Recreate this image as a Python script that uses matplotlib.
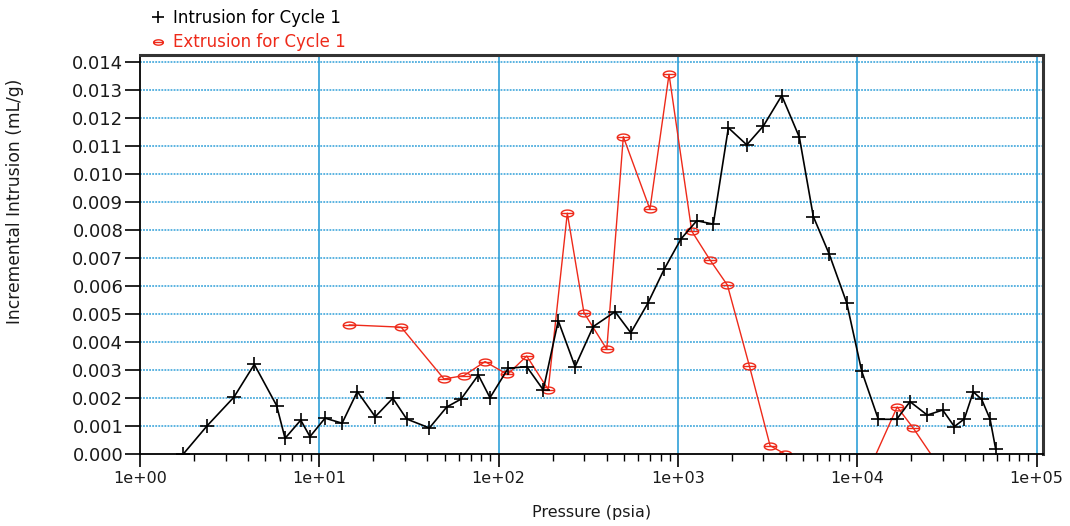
import numpy as np
import matplotlib
matplotlib.use("Agg")
import matplotlib.pyplot as plt
from matplotlib.path import Path
from matplotlib.lines import Line2D
from matplotlib.ticker import LogLocator, FixedLocator, NullFormatter, FixedFormatter

# ---------------- data ----------------
intr_p = [1.744, 2.37, 3.34, 4.34, 5.78, 6.44, 7.88, 8.87, 10.76, 13.4, 16.3, 20.5,
          25.7, 30.7, 41.1, 51.4, 61.7, 77.1, 89.5, 113, 143.5, 177.4, 215, 267,
          337, 446, 546, 679, 840, 1040, 1273, 1575, 1911, 2421, 2993, 3793, 4757,
          5690, 6986, 8734, 10590, 13110, 16600, 19690, 24580, 29960, 34800, 39550,
          44370, 49440, 55080, 59190]
intr_v = [0.0, 0.00101, 0.00203, 0.0032, 0.00173, 0.00056, 0.00121, 0.00062, 0.00128,
          0.0011, 0.00223, 0.00133, 0.00199, 0.00125, 0.00093, 0.00168, 0.00196,
          0.00282, 0.00201, 0.00306, 0.00312, 0.00229, 0.00476, 0.00312, 0.00455,
          0.00508, 0.00433, 0.00538, 0.00661, 0.00768, 0.00833, 0.00821, 0.01165,
          0.01104, 0.01171, 0.0128, 0.01131, 0.00848, 0.00713, 0.0054, 0.00296,
          0.00124, 0.00124, 0.00187, 0.00139, 0.00157, 0.00098, 0.00125, 0.00222,
          0.00195, 0.00124, 0.00017]

extr_p = [14.7, 28.6, 49.6, 64.1, 84, 112, 143.5, 189, 241.6, 299, 401, 496, 698, 892,
          1194, 1510, 1888, 2502, 3265, 3957, 11190, 16700, 20560, 27000]
extr_v = [0.00461, 0.00453, 0.00268, 0.0028, 0.0033, 0.00284, 0.0035, 0.0023, 0.0086,
          0.00505, 0.00374, 0.01133, 0.00874, 0.01356, 0.00796, 0.00693, 0.00603,
          0.00315, 0.0003, 0.0, -0.0008, 0.00168, 0.00092, -0.0002]

x_ticks = [1e0, 1e1, 1e2, 1e3, 1e4, 1e5]
x_tick_labels = ["1e+00", "1e+01", "1e+02", "1e+03", "1e+04", "1e+05"]
y_ticks = [i / 1000 for i in range(15)]

# ---------------- style ----------------
plt.rcParams['font.family'] = ['DejaVu Sans']
RED = '#ee2a1a'
GRID = '#2f9fd8'
TXT = '#1a1a1a'

# oval marker with horizontal bar
t = np.linspace(0, 2 * np.pi, 33)
verts = [(np.cos(a), 0.55 * np.sin(a)) for a in t] + [(-1, 0), (1, 0)]
codes = [Path.MOVETO] + [Path.LINETO] * 32 + [Path.MOVETO, Path.LINETO]
oval = Path(verts, codes)

fig = plt.figure(figsize=(10.7, 5.26), dpi=100)
ax = fig.add_axes([140 / 1070, 72 / 526, 903 / 1070, 399.3 / 526])

ax.set_xscale('log')
ax.set_xlim(1, 10 ** 5.036)
ax.set_ylim(0, 0.01426)

# grid
for yv in y_ticks[1:]:
    ax.axhline(yv, color=GRID, lw=1.1, ls=(0, (1.2, 0.8)), zorder=1)
for xv in x_ticks[1:]:
    ax.axvline(xv, color=GRID, lw=1.2, zorder=1)

ax.plot(intr_p, intr_v, color='black', lw=1.2, marker='+', ms=10, mew=1.2, zorder=3)
ax.plot(extr_p, extr_v, color=RED, lw=1.0, marker=oval, ms=9, mew=1.0,
        mfc='none', mec=RED, zorder=2)

ax.xaxis.set_major_locator(FixedLocator(x_ticks))
ax.xaxis.set_major_formatter(FixedFormatter(x_tick_labels))
ax.xaxis.set_minor_locator(LogLocator(base=10, subs=np.arange(2, 10), numticks=20))
ax.xaxis.set_minor_formatter(NullFormatter())
ax.set_yticks(y_ticks)
ax.set_yticklabels([f"{v:.3f}" for v in y_ticks])

ax.tick_params(axis='x', which='major', direction='out', length=9, width=1.2,
               labelsize=11.5, pad=3, labelcolor=TXT)
ax.tick_params(axis='x', which='minor', direction='out', length=5, width=1.0)
ax.tick_params(axis='y', which='major', direction='out', length=11, width=1.2,
               labelsize=13, pad=1, labelcolor=TXT)

for s in ['left', 'bottom']:
    ax.spines[s].set_linewidth(1.3)
    ax.spines[s].set_color('black')
for s in ['top', 'right']:
    ax.spines[s].set_linewidth(2.2)
    ax.spines[s].set_color('#333333')

ax.set_xlabel('Pressure (psia)', fontsize=11.5, labelpad=14, color=TXT)
ax.set_ylabel('Incremental Intrusion (mL/g)', fontsize=12.3, color=TXT)
ax.yaxis.set_label_coords(-0.1285, 0.634)

handles = [Line2D([], [], ls='none', marker='+', color='black', ms=8, mew=1.2),
           Line2D([], [], ls='none', marker=oval, color=RED, ms=7, mfc='none', mew=1.0)]
leg = fig.legend(handles, ['Intrusion for Cycle 1', 'Extrusion for Cycle 1'],
                 loc='upper left', bbox_to_anchor=(139 / 1070, 1.005), frameon=False,
                 fontsize=12, handlelength=0.9, handletextpad=0.45, labelspacing=0.38,
                 borderpad=0.2, labelcolor=['black', RED])

fig.savefig('out.png', dpi=100)
